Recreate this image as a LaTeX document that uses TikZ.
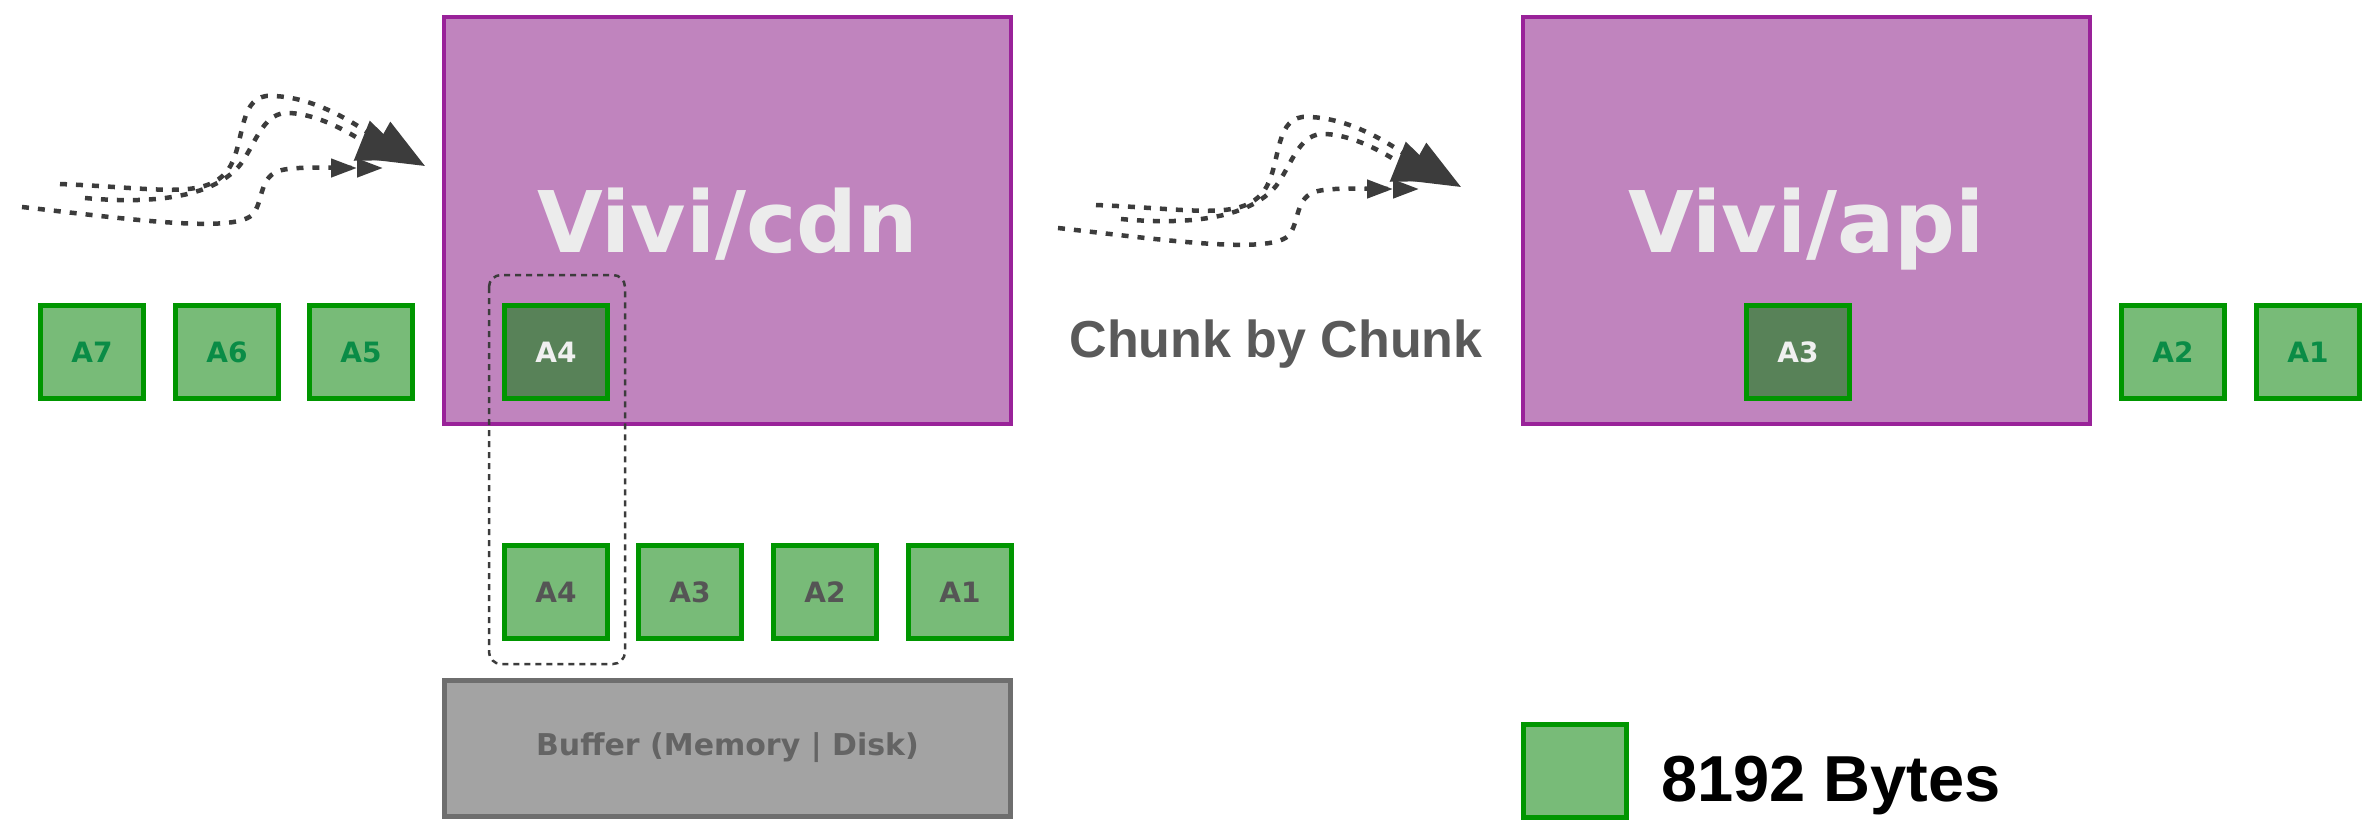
\documentclass[tikz,border=0pt]{standalone}
\usepackage{fontspec}
\newfontfamily\dvs{DejaVu Sans}
\newfontfamily\lib{Liberation Sans}
\usetikzlibrary{arrows.meta}
\definecolor{purplefill}{RGB}{192,132,190}
\definecolor{purpleline}{RGB}{153,34,153}
\definecolor{srvtext}{RGB}{236,236,236}
\definecolor{greenfill}{RGB}{120,187,120}
\definecolor{greenline}{RGB}{0,150,0}
\definecolor{darkgreen}{RGB}{88,130,88}
\definecolor{greentext}{RGB}{10,140,70}
\definecolor{graytext}{RGB}{85,85,85}
\definecolor{whitetext}{RGB}{240,240,240}
\definecolor{bufferfill}{RGB}{163,163,163}
\definecolor{bufferline}{RGB}{110,110,110}
\definecolor{buffertext}{RGB}{100,100,100}
\definecolor{chunktext}{RGB}{90,90,90}
\definecolor{flowgray}{RGB}{60,60,60}
\begin{document}
\begin{tikzpicture}[x=1pt,y=-1pt,
  server/.style={draw=purpleline, fill=purplefill, line width=4.5pt, minimum width=567pt, minimum height=407pt, inner sep=0pt},
  srvlabel/.style={anchor=base, text=srvtext, font=\dvs\bfseries\fontsize{85pt}{100pt}\selectfont, inner sep=0pt},
  chunkbox/.style={draw=greenline, fill=greenfill, line width=5.5pt, minimum width=103pt, minimum height=93pt, inner sep=0pt, font=\dvs\bfseries\fontsize{28pt}{34pt}\selectfont},
  queued/.style={chunkbox, text=greentext},
  buffered/.style={chunkbox, text=graytext},
  active/.style={chunkbox, fill=darkgreen, text=whitetext},
  bufferbox/.style={draw=bufferline, fill=bufferfill, line width=5pt, minimum width=566pt, minimum height=136pt, inner sep=0pt, text=buffertext, font=\dvs\bfseries\fontsize{30pt}{36pt}\selectfont},
  window/.style={draw=flowgray, line width=2.5pt, dash pattern=on 6pt off 5pt, rounded corners=12pt},
  flow/.style={draw=flowgray, line width=4.5pt, dash pattern=on 7pt off 9pt},
  bighead/.style={-{Triangle[length=52pt,width=42pt]}},
  twohead/.style={-{Triangle[length=26pt,width=18pt] Triangle[length=26pt,width=18pt]}},
  motion/.pic={
    \draw[flow, bighead] (60,184) .. controls (160,188) and (205,200) .. (228,170)
       .. controls (245,145) and (238,100) .. (266,96)
       .. controls (320,94) and (370,135) .. (425,166);
    \draw[flow, bighead] (85,198) .. controls (160,205) and (215,195) .. (240,165)
       .. controls (255,145) and (262,115) .. (285,113)
       .. controls (320,112) and (360,140) .. (410,160);
    \draw[flow, twohead] (22,207) .. controls (120,218) and (232,234) .. (252,215)
       .. controls (264,203) and (258,175) .. (282,170)
       .. controls (300,166) and (340,168) .. (383,168);
  }
]
\useasboundingbox (0,0) rectangle (2375,820);
\fill[white] (0,0) rectangle (2375,820);

% motion arrows
\pic at (0,0) {motion};
\pic at (1036,21) {motion};

% servers
\node[server] (cdn) at (727.5,220.5) {};
\node[srvlabel] (cdnlabel) at (727.5,252) {Vivi/cdn};
\node[server] (api) at (1806.5,220.5) {};
\node[srvlabel] (apilabel) at (1806.5,252) {Vivi/api};

% window around A4
\draw[window] (489,275) rectangle (625,664);

% upper row
\node[queued] (a7) at (92,352) {A7};
\node[queued] (a6) at (227,352) {A6};
\node[queued] (a5) at (361,352) {A5};
\node[active] (a4up) at (556,352) {A4};
\node[active] (a3api) at (1798,352) {A3};
\node[queued] (a2r) at (2173,352) {A2};
\node[queued] (a1r) at (2308,352) {A1};

% lower row (buffer)
\node[buffered] (a4) at (556,592) {A4};
\node[buffered] (a3) at (690,592) {A3};
\node[buffered] (a2) at (825,592) {A2};
\node[buffered] (a1) at (960,592) {A1};

\node[bufferbox] (buffer) at (727.5,748) {Buffer (Memory | Disk)};

% texts
\node[anchor=base, inner sep=0pt, text=chunktext, font=\lib\bfseries\fontsize{52pt}{60pt}\selectfont] (chunk) at (1276,357) {Chunk by Chunk};

% legend
\node[chunkbox] (legendbox) at (1575,771) {};
\node[anchor=base west, inner sep=0pt, text=black, font=\lib\bfseries\fontsize{65pt}{78pt}\selectfont] (legendtext) at (1661,801) {8192 Bytes};
\end{tikzpicture}
\end{document}
